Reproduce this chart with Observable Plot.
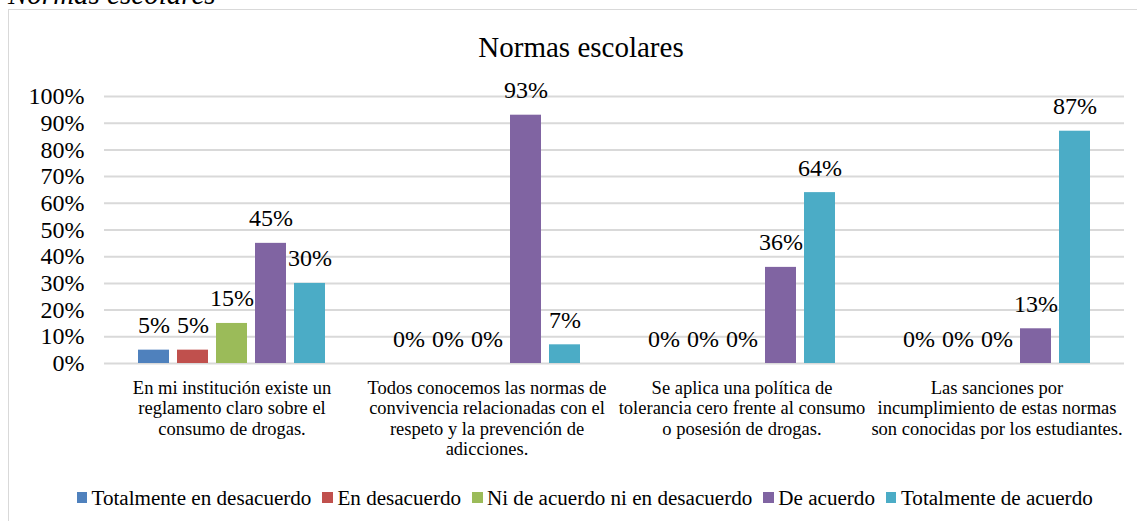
<!DOCTYPE html>
<html>
<head>
<meta charset="utf-8">
<script src="https://cdn.jsdelivr.net/npm/d3@7"></script>
<script src="https://cdn.jsdelivr.net/npm/@observablehq/plot@0.6"></script>
<style>
  html, body { margin: 0; padding: 0; background: #fff; overflow: hidden; }
  body { width: 1137px; height: 521px; position: relative; font-family: "Liberation Serif", "Times New Roman", serif; color: #000; }
  #caption { position: absolute; left: 8px; top: -20px; font-size: 29px; line-height: 29px; font-style: italic; white-space: nowrap; }
  #frame { position: absolute; left: 8px; top: 9px; width: 1300px; height: 700px; border-left: 1px solid #d9d9d9; border-top: 1px solid #d9d9d9; }
  #title { position: absolute; left: 581px; top: 33px; transform: translateX(-50%); font-size: 29px; line-height: 29px; white-space: nowrap; }
  #chart { position: absolute; left: 0; top: 60px; }
  #legend { position: absolute; left: 76.5px; top: 487px; display: flex; align-items: center; font-size: 21.1px; line-height: 22px; white-space: nowrap; }
  #legend .item { display: flex; align-items: center; margin-right: 11px; }
  #legend .sw { width: 10.5px; height: 10.5px; margin-right: 4.5px; position: relative; top: -0.5px; }
</style>
</head>
<body>
<div id="caption">Normas escolares</div>
<div id="frame"></div>
<div id="title">Normas escolares</div>
<div id="chart"></div>
<div id="legend"></div>
<script>
const series = [
  "Totalmente en desacuerdo",
  "En desacuerdo",
  "Ni de acuerdo ni en desacuerdo",
  "De acuerdo",
  "Totalmente de acuerdo"
];
const colors = ["#4F81BD", "#C0504D", "#9BBB59", "#8064A2", "#4BACC6"];

const categories = [
  "En mi institución existe un reglamento claro sobre el consumo de drogas.",
  "Todos conocemos las normas de convivencia relacionadas con el respeto y la prevención de adicciones.",
  "Se aplica una política de tolerancia cero frente al consumo o posesión de drogas.",
  "Las sanciones por incumplimiento de estas normas son conocidas por los estudiantes."
];
const categoryLines = [
  ["En mi institución existe un", "reglamento claro sobre el", "consumo de drogas."],
  ["Todos conocemos las normas de", "convivencia relacionadas con el", "respeto y la prevención de", "adicciones."],
  ["Se aplica una política de", "tolerancia cero frente al consumo", "o posesión de drogas."],
  ["Las sanciones por", "incumplimiento de estas normas", "son conocidas por los estudiantes."]
];

const totalmenteEnDesacuerdo = [5, 0, 0, 0];
const enDesacuerdo = [5, 0, 0, 0];
const niDeAcuerdoNiEnDesacuerdo = [15, 0, 0, 0];
const deAcuerdo = [45, 93, 36, 13];
const totalmenteDeAcuerdo = [30, 7, 64, 87];

const yTicks = [0, 10, 20, 30, 40, 50, 60, 70, 80, 90, 100];

const seriesValues = [totalmenteEnDesacuerdo, enDesacuerdo, niDeAcuerdoNiEnDesacuerdo, deAcuerdo, totalmenteDeAcuerdo];
const data = [];
categories.forEach((c, i) => {
  series.forEach((s, j) => {
    data.push({category: c, series: s, value: seriesValues[j][i]});
  });
});

const font = '"Liberation Serif", "Times New Roman", serif';

const chart = Plot.plot({
  width: 1137,
  height: 403,
  marginTop: 36,
  marginBottom: 100,
  marginLeft: 103,
  marginRight: 12,
  style: {fontFamily: font, fontSize: "24px", color: "#000", background: "transparent", overflow: "visible"},
  fx: {domain: categories, padding: 0, label: null},
  x: {domain: series, paddingInner: 0.2, paddingOuter: 0.855, axis: null},
  y: {domain: [0, 100], label: null},
  color: {domain: series, range: colors},
  marks: [
    Plot.gridY(yTicks, {stroke: "#d9d9d9", strokeOpacity: 1, strokeWidth: 2}),
    Plot.barY(data, {fx: "category", x: "series", y: "value", fill: "series"}),
    Plot.text(data, {fx: "category", x: "series", y: "value", text: d => d.value + "%", lineAnchor: "bottom", dy: -17, fontSize: 24, fill: "#000"}),
    Plot.axisY({ticks: yTicks, tickFormat: d => d + "%", tickSize: 0, tickPadding: 20, fontSize: 24, label: null}),
    Plot.axisFx({anchor: "bottom", tickSize: 0, tickPadding: 16, fontSize: 18.5, lineHeight: 1.1, label: null,
      tickFormat: d => categoryLines[categories.indexOf(d)].join("\n")})
  ]
});
document.getElementById("chart").appendChild(chart);

const legend = d3.select("#legend");
series.forEach((s, i) => {
  const item = legend.append("div").attr("class", "item");
  item.append("div").attr("class", "sw").style("background", colors[i]);
  item.append("span").text(s);
});
</script>
</body>
</html>
